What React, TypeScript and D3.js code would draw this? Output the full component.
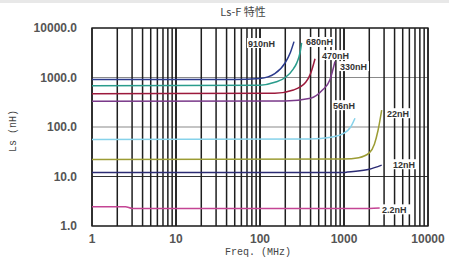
import React from 'react';
import * as d3 from 'd3';

// frequency ticks (MHz) and inductance ticks (nH)
const xTicks = [1, 10, 100, 1000, 10000];
const yTicks = [1, 10, 100, 1000, 10000];

const seriesNames = ['910nH', '680nH', '470nH', '330nH', '56nH', '22nH', '12nH', '2.2nH'];
const seriesColors = ['#2b3a8c', '#2a9c8c', '#9c1a3c', '#7a3a8a', '#86d2ea', '#9c9c34', '#2c2c74', '#c44494'];

// [freq MHz, Ls nH]
const s910: [number, number][] = [[1, 910], [50, 915], [100, 960], [150, 1200], [200, 2000], [230, 3200], [254, 5300]];
const s680: [number, number][] = [[1, 680], [100, 700], [150, 800], [200, 1000], [250, 1500], [275, 2000], [300, 3200], [313, 5000]];
const s470: [number, number][] = [[1, 470], [150, 480], [250, 560], [350, 800], [400, 1200], [452, 2400]];
const s330: [number, number][] = [[1, 330], [200, 335], [400, 380], [550, 550], [680, 900], [781, 2100]];
const s56: [number, number][] = [[1, 56], [400, 57], [700, 62], [1000, 75], [1200, 100], [1352, 150]];
const s22: [number, number][] = [[1, 22], [1000, 22.5], [1500, 24], [2000, 30], [2300, 45], [2540, 85], [2810, 220]];
const s12: [number, number][] = [[1, 12], [1000, 12], [1100, 12.3], [2000, 14], [2810, 17]];
const s2p2: [number, number][] = [[1, 2.45], [2.5, 2.45], [3, 2.27], [1000, 2.25], [2000, 2.25], [2660, 2.3]];
const seriesData = [s910, s680, s470, s330, s56, s22, s12, s2p2];

// label anchors [freq, Ls]
const labelAt: [number, number][] = [[72, 4970], [353, 5220], [547, 2840], [896, 1700], [740, 276], [3250, 190], [3830, 17.7], [2830, 2.17]];

const W = 449;
const H = 257;
const margin = { top: 28, right: 21, bottom: 31, left: 92 };

export default function App() {
  const x = d3.scaleLog().domain([1, 10000]).range([margin.left, W - margin.right]);
  const y = d3.scaleLog().domain([1, 10000]).range([H - margin.bottom, margin.top]);

  const minor: number[] = [];
  for (let d = 1; d < 10000; d *= 10) {
    for (let k = 1; k <= 10; k++) minor.push(d * k);
  }

  const line = d3.line<[number, number]>()
    .x(d => x(d[0]))
    .y(d => y(d[1]))
    .curve(d3.curveMonotoneX);

  const sans = 'Arial, "Liberation Sans", sans-serif';

  return (
    <svg width={W} height={H} style={{ position: 'fixed', left: 0, top: 0, background: '#fff' }}>
      <rect x={0} y={0} width={W} height={3} fill="#e8e8e8" />
      {/* horizontal decade grid */}
      {yTicks.map(t => (
        <line key={'h' + t} x1={x(1)} x2={x(10000)} y1={y(t)} y2={y(t)}
          stroke={t === 10 ? '#333' : '#8a8a8a'} strokeWidth={1.2} />
      ))}
      {/* vertical grid */}
      {minor.map((t, i) => (
        <line key={'v' + i} x1={x(t)} x2={x(t)} y1={y(1)} y2={y(10000)} stroke="#1e1e1e" strokeWidth={1.5} />
      ))}
      <rect x={x(1)} y={y(10000)} width={x(10000) - x(1)} height={y(1) - y(10000)} fill="none" stroke="#222" strokeWidth={1.4} />

      {seriesData.map((s, i) => (
        <path key={seriesNames[i]} d={line(s) || ''} fill="none" stroke={seriesColors[i]} strokeWidth={1.5} />
      ))}

      {seriesNames.map((n, i) => (
        <g key={'l' + n}>
          <rect x={x(labelAt[i][0]) - 1} y={y(labelAt[i][1]) - 5} width={n.length * 5.6 + 2} height={10} fill="#fff" />
          <text x={x(labelAt[i][0])} y={y(labelAt[i][1]) + 3.5} fontFamily={sans} fontSize={9} fontWeight="bold" fill="#333">{n}</text>
        </g>
      ))}

      {yTicks.map(t => (
        <text key={'yt' + t} x={77} y={y(t) + 4} textAnchor="end" fontFamily={sans} fontSize={12} fontWeight="bold" fill="#555">
          {t.toFixed(1)}
        </text>
      ))}
      {xTicks.map(t => (
        <text key={'xt' + t} x={x(t)} y={243} textAnchor="middle" fontFamily={sans} fontSize={12} fontWeight="bold" fill="#555">
          {t}
        </text>
      ))}

      <text x={243} y={16} textAnchor="middle" fontFamily='"Noto Sans CJK JP", "DejaVu Serif", serif' fontSize={11} fill="#444">
        Ls-F 特性
      </text>
      <text x={258} y={255} textAnchor="middle" fontFamily='"Liberation Mono", "DejaVu Serif", serif' fontSize={10} fill="#444">
        Freq.  (MHz)
      </text>
      <text transform="translate(16,131) rotate(-90)" textAnchor="middle" fontFamily='"Liberation Mono", "DejaVu Serif", serif' fontSize={10} fill="#444">
        Ls  (nH)
      </text>
    </svg>
  );
}
